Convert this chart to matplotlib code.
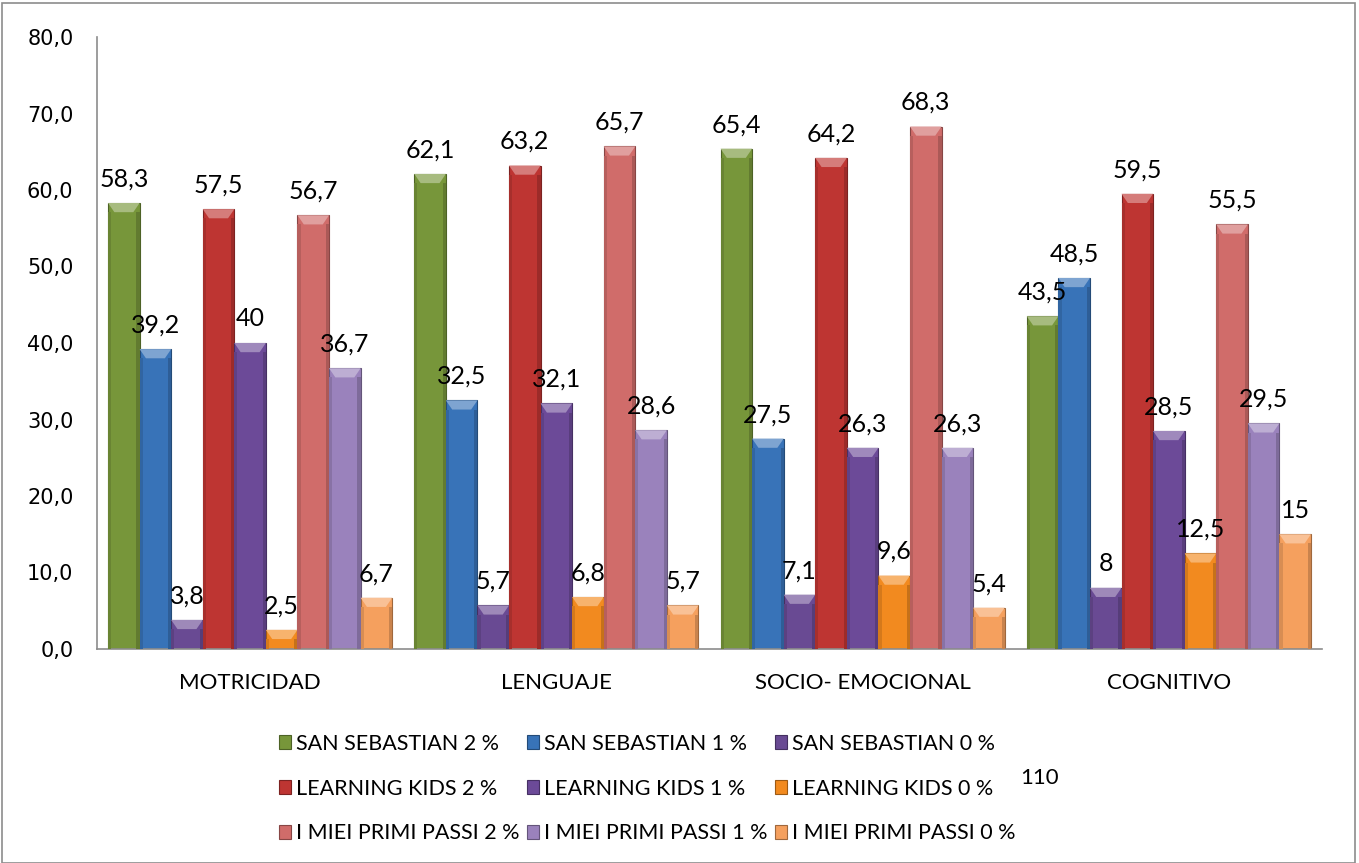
import matplotlib
matplotlib.use("Agg")
import matplotlib.pyplot as plt
import matplotlib.colors as mcolors
from matplotlib.patches import Polygon, Rectangle
import numpy as np

plt.rcParams['font.family'] = ['Lato', 'DejaVu Sans']

categories = ["MOTRICIDAD", "LENGUAJE", "SOCIO- EMOCIONAL", "COGNITIVO"]

series_names = [
    "SAN SEBASTIAN 2 %", "SAN SEBASTIAN 1 %", "SAN SEBASTIAN 0 %",
    "LEARNING KIDS 2 %", "LEARNING KIDS 1 %", "LEARNING KIDS 0 %",
    "I MIEI PRIMI PASSI 2 %", "I MIEI PRIMI PASSI 1 %", "I MIEI PRIMI PASSI 0 %",
]

san_sebastian_2 = [58.3, 62.1, 65.4, 43.5]
san_sebastian_1 = [39.2, 32.5, 27.5, 48.5]
san_sebastian_0 = [3.8, 5.7, 7.1, 8]
learning_kids_2 = [57.5, 63.2, 64.2, 59.5]
learning_kids_1 = [40, 32.1, 26.3, 28.5]
learning_kids_0 = [2.5, 6.8, 9.6, 12.5]
primi_passi_2 = [56.7, 65.7, 68.3, 55.5]
primi_passi_1 = [36.7, 28.6, 26.3, 29.5]
primi_passi_0 = [6.7, 5.7, 5.4, 15]

series_values = [
    san_sebastian_2, san_sebastian_1, san_sebastian_0,
    learning_kids_2, learning_kids_1, learning_kids_0,
    primi_passi_2, primi_passi_1, primi_passi_0,
]

colors = ["#77963A", "#3873B8", "#694A93",
          "#BE3532", "#6C4A98", "#F28A1F",
          "#D06C6A", "#9A82BC", "#F5A05E"]

FS = 16


def fmt(v):
    s = ("%g" % v)
    return s.replace(".", ",")


def shade(c, f):
    r, g, b = mcolors.to_rgb(c)
    if f > 0:
        return (r + (1 - r) * f, g + (1 - g) * f, b + (1 - b) * f)
    return (r * (1 + f), g * (1 + f), b * (1 + f))


fig = plt.figure(figsize=(13.59, 8.63), dpi=100)
ax = fig.add_axes([97 / 1359, 1 - 649 / 863, (1322 - 97) / 1359, (649 - 37) / 863])

n = len(series_values)
x = np.arange(len(categories))
group_w = 9 / 9.7
w = group_w / n

handles = []
for i, (vals, col, name) in enumerate(zip(series_values, colors, series_names)):
    pos = x - group_w / 2 + w * (i + 0.5)
    bars = ax.bar(pos, vals, width=w, color=col, edgecolor=shade(col, -0.35),
                  linewidth=0.8, label=name, zorder=2)
    handles.append(bars)
    for b, v in zip(bars, vals):
        bx, bw, bh = b.get_x(), b.get_width(), b.get_height()
        # light bevel on the top of each bar
        cap = min(1.2, bh)
        ax.add_patch(Polygon([(bx, bh), (bx + bw, bh), (bx + bw * 0.8, bh - cap),
                              (bx + bw * 0.2, bh - cap)], closed=True,
                             facecolor=shade(col, 0.35), edgecolor='none', zorder=3))
        # darker side strips
        ax.add_patch(Rectangle((bx, 0), bw * 0.1, bh - cap, facecolor=shade(col, -0.12),
                               edgecolor='none', zorder=3))
        ax.add_patch(Rectangle((bx + bw * 0.9, 0), bw * 0.1, bh - cap,
                               facecolor=shade(col, -0.18), edgecolor='none', zorder=3))
        ax.annotate(fmt(v), (bx + bw / 2, bh), xytext=(0, 9), textcoords='offset points',
                    ha='center', va='bottom', fontsize=18, color='black', zorder=4)

ax.set_ylim(0, 80)
ax.set_xlim(-0.5, len(categories) - 0.5)
ax.set_yticks(np.arange(0, 81, 10))
ax.set_yticklabels([("%.1f" % t).replace(".", ",") for t in np.arange(0, 81, 10)],
                   fontsize=15, family='DejaVu Sans')
ax.set_xticks(x)
ax.set_xticklabels(categories, fontsize=FS)
ax.tick_params(axis='y', length=0, pad=17)
ax.tick_params(axis='x', length=0, pad=17)
for s in ['top', 'right']:
    ax.spines[s].set_visible(False)
for s in ['left', 'bottom']:
    ax.spines[s].set_color('#8C8C8C')
    ax.spines[s].set_linewidth(1.2)

# legend is filled column-wise, so reorder to read row by row
order = [0, 3, 6, 1, 4, 7, 2, 5, 8]
fig.legend([handles[k] for k in order], [series_names[k] for k in order],
           ncol=3, loc='upper left', bbox_to_anchor=(268 / 1359, 1 - 723 / 863),
           frameon=False, fontsize=15.5, handlelength=0.55, handleheight=0.6,
           handletextpad=0.25, columnspacing=0.35, labelspacing=1.15, borderpad=0)

fig.text(1020 / 1359, 1 - 778 / 863, "110", fontsize=FS, ha='left', va='center')

fig.add_artist(Rectangle((2 / 1359, 0), 1353 / 1359, 1 - 3 / 863, transform=fig.transFigure,
                         fill=False, edgecolor='#8C8C8C', linewidth=1.2))

fig.savefig("out.png", dpi=100)
